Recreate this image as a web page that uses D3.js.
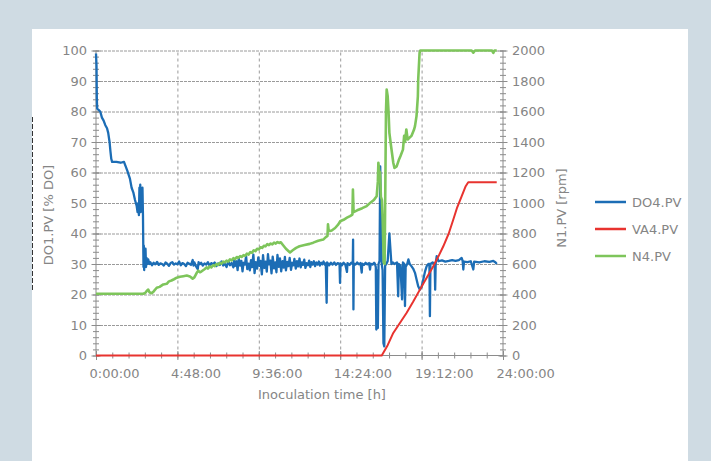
<!DOCTYPE html>
<html>
<head>
<meta charset="utf-8">
<script src="https://cdn.jsdelivr.net/npm/d3@7"></script>
<style>
  html, body { margin: 0; padding: 0; background: #cfdbe3; }
  svg { display: block; }
  text { font-family: "DejaVu Sans", sans-serif; }
</style>
</head>
<body>
<svg id="chart" width="711" height="461"></svg>
<script>
// ---- Series data (time in hours) ----
// Dissolved oxygen, % DO (left axis)
const doHours = [
  0.00, 0.03, 0.05, 0.07, 0.15, 0.25, 0.35, 0.45, 0.55, 0.65, 0.72, 0.80, 0.85, 0.90, 0.95,
  1.20, 1.45, 1.65, 1.75, 1.85, 2.00, 2.10, 2.20, 2.30, 2.40, 2.45, 2.50, 2.53, 2.56, 2.58,
  2.61, 2.63, 2.66, 2.70, 2.74, 2.77, 2.80, 2.82, 2.84, 2.86, 2.89, 2.92, 2.95, 2.98, 3.02,
  3.08, 3.15, 3.20, 3.30, 3.40, 3.50, 3.60, 3.70, 3.80, 3.90, 4.00, 4.10, 4.20, 4.30, 4.40,
  4.50, 4.60, 4.70, 4.80, 4.90, 5.00, 5.10, 5.20, 5.30, 5.40, 5.50, 5.60, 5.70, 5.75, 5.80,
  5.90, 6.00, 6.05, 6.10, 6.20, 6.30, 6.40, 6.50, 6.60, 6.70, 6.80, 6.90, 7.00, 7.10, 7.20,
  7.30, 7.40, 7.50, 7.60, 7.70, 7.80, 7.90, 8.00, 8.10, 8.15, 8.20, 8.28, 8.35, 8.42, 8.50,
  8.57, 8.64, 8.70, 8.78, 8.85, 8.92, 9.00, 9.07, 9.14, 9.20, 9.28, 9.35, 9.42, 9.50, 9.57,
  9.64, 9.70, 9.78, 9.85, 9.92, 10.00, 10.07, 10.14, 10.20, 10.28, 10.35, 10.42, 10.50, 10.57,
  10.64, 10.70, 10.78, 10.85, 10.92, 11.00, 11.07, 11.14, 11.20, 11.28, 11.35, 11.42, 11.50,
  11.57, 11.64, 11.70, 11.78, 11.85, 11.92, 12.00, 12.07, 12.14, 12.20, 12.28, 12.35, 12.42,
  12.50, 12.57, 12.64, 12.70, 12.78, 12.85, 12.92, 13.00, 13.07, 13.14, 13.20, 13.28, 13.35,
  13.42, 13.50, 13.55, 13.60, 13.63, 13.75, 13.85, 13.95, 14.05, 14.15, 14.25, 14.36, 14.39,
  14.42, 14.50, 14.60, 14.70, 14.80, 14.83, 14.95, 15.05, 15.14, 15.16, 15.18, 15.20, 15.30,
  15.40, 15.50, 15.60, 15.67, 15.70, 15.80, 15.90, 16.00, 16.10, 16.16, 16.20, 16.30, 16.40,
  16.45, 16.50, 16.53, 16.56, 16.62, 16.66, 16.72, 16.76, 16.80, 16.85, 16.90, 16.95, 17.00,
  17.05, 17.12, 17.20, 17.30, 17.36, 17.42, 17.50, 17.60, 17.75, 17.82, 17.86, 17.95, 18.05,
  18.10, 18.18, 18.22, 18.26, 18.35, 18.42, 18.50, 18.60, 18.70, 18.81, 18.90, 19.00, 19.10,
  19.20, 19.30, 19.40, 19.50, 19.60, 19.66, 19.69, 19.72, 19.85, 19.97, 20.00, 20.03, 20.09,
  20.20, 20.40, 20.60, 20.80, 21.00, 21.20, 21.40, 21.56, 21.62, 21.66, 21.70, 21.90, 22.10,
  22.25, 22.30, 22.60, 22.90, 23.20, 23.43, 23.55, 23.63
];
const doPct = [
  99, 95, 84, 81, 80.5, 80, 78, 77, 75.5, 74.5, 73, 70, 67, 64.5, 63.5,
  63.5, 63.2, 63.5, 62, 60.5, 58, 55, 53.5, 51, 49, 47, 50, 46, 55, 48,
  56, 47, 54, 48, 55, 46, 29, 36, 28, 33, 31, 35, 29, 32, 30,
  31.5, 30, 30.6, 29.6, 30.4, 29.9, 30.7, 29.7, 30.2, 30.0, 29.5, 30.5, 30.1, 29.4, 30.3,
  30.6, 29.8, 30.2, 29.9, 30.8, 29.6, 30.3, 30.0, 29.3, 30.4, 30.1, 29.7, 31.3, 29.5, 30.5,
  29.2, 28.3, 30.6, 29.9, 30.4, 29.5, 30.2, 29.8, 30.6, 29.4, 30.3, 29.9, 30.5, 29.3, 30.2,
  29.7, 30.8, 29.5, 30.1, 29.0, 30.9, 29.6, 30.3, 28.9, 31.2, 29.4, 30.9, 28.0, 31.9, 29.5,
  31.0, 27.6, 30.4, 29.8, 32.6, 28.3, 30.1, 27.9, 31.3, 29.0, 33.1, 27.0, 30.6, 28.5, 32.2,
  29.4, 31.0, 26.6, 32.9, 28.7, 30.8, 27.5, 33.2, 29.9, 31.1, 26.9, 32.4, 28.6, 30.5,
  27.3, 33.0, 29.1, 31.8, 27.6, 30.9, 28.8, 32.3, 27.9, 30.7, 29.3, 32.0, 28.1,
  30.4, 29.6, 31.7, 28.5, 30.9, 29.2, 31.8, 28.9, 30.5, 29.7, 31.4, 28.7, 30.3,
  29.6, 31.1, 29.0, 30.6, 29.8, 30.9, 29.3, 30.5, 29.8, 30.8, 29.5, 30.4, 29.9,
  30.8, 29.7, 30.2, 17.3, 30.5, 29.6, 30.4, 29.8, 30.5, 29.7, 30.3, 30.0, 23.8,
  30.2, 29.6, 30.4, 29.8, 27.4, 30.3, 29.7, 30.4, 30.0, 38.0, 15.1, 30.2, 29.8,
  30.5, 29.9, 30.3, 27.2, 30.1, 29.7, 30.4, 29.9, 30.3, 28.2, 30.1, 29.8, 30.4,
  30.0, 29.0, 8.5, 28.0, 9.0, 30.0, 31.0, 62.0, 45.0, 30.0, 28.0, 4.0, 3.0,
  29.5, 30.0, 31.0, 40.0, 35.0, 30.0, 30.5, 30.0, 30.5, 19.4, 30.0, 29.5, 18.4,
  30.5, 30.0, 16.2, 29.0, 30.0, 31.5, 30.0, 29.3, 28.5, 27.1, 25.0, 22.7, 21.6,
  22.5, 24.9, 27.5, 29.3, 30.0, 30.0, 12.9, 30.0, 30.5, 30.0, 21.6, 30.0, 32.6,
  30.9, 31.2, 30.8, 31.0, 31.3, 31.0, 31.3, 32.0, 31.0, 28.2, 30.8, 30.6, 30.9,
  28.2, 30.8, 30.5, 30.9, 30.7, 31.0, 30.6, 30.0
];

// Feed volume, plotted on the left axis
const vaHours = [0, 16.85, 17.2, 17.53, 17.9, 18.32, 18.7, 19.1, 19.5, 19.89, 20.2, 20.48, 20.8, 21.07, 21.3, 21.56, 21.8, 21.95, 23.63];
const vaPct   = [0, 0, 3.4, 7.4, 10.5, 14.0, 17.6, 21.6, 25.5, 29.3, 32.6, 35.8, 40.0, 44.6, 48.6, 52.2, 55.5, 56.8, 56.8];

// Stirrer speed, rpm (right axis)
const nHours = [
  0, 2.79, 2.9, 3.0, 3.08, 3.15, 3.28, 3.4, 3.58, 3.75, 3.97, 4.17, 4.3, 4.45, 4.6, 4.76,
  4.95, 5.15, 5.35, 5.54, 5.7, 5.8, 5.94, 6.03, 6.13, 6.23, 6.4, 6.53, 6.6, 6.7, 6.8, 6.9,
  7.0, 7.1, 7.2, 7.3, 7.4, 7.5, 7.6, 7.7, 7.8, 7.9, 8.0, 8.1, 8.2, 8.3, 8.4, 8.5, 8.6, 8.7,
  8.8, 8.9, 9.0, 9.1, 9.2, 9.3, 9.4, 9.5, 9.6, 9.7, 9.8, 9.9, 10.0, 10.1, 10.2, 10.3, 10.4,
  10.5, 10.6, 10.7, 10.8, 10.9, 11.0, 11.2, 11.44, 11.6, 11.8, 12.0, 12.3, 12.6, 12.81, 13.1,
  13.4, 13.55, 13.65, 13.68, 13.72, 13.78, 13.9, 14.1, 14.29, 14.4, 14.6, 14.8, 14.98, 15.12,
  15.15, 15.19, 15.4, 15.7, 15.96, 16.2, 16.4, 16.55, 16.62, 16.65, 16.7, 16.75, 16.8, 16.86,
  16.9, 16.97, 17.02, 17.06, 17.1, 17.14, 17.2, 17.25, 17.3, 17.4, 17.53, 17.6, 17.73, 17.85,
  17.95, 18.1, 18.17, 18.22, 18.3, 18.38, 18.5, 18.6, 18.75, 18.81, 18.9, 18.98, 19.0, 19.08,
  19.12, 22.15, 22.25, 22.35, 23.35, 23.43, 23.5, 23.63
];
const nRpm = [
  405, 405, 410, 425, 432, 415, 408, 420, 444, 450, 466, 470, 486, 492, 500, 510,
  516, 520, 524, 518, 504, 512, 542, 556, 546, 552, 566, 578, 570, 584, 578, 592,
  586, 600, 594, 608, 602, 616, 610, 622, 616, 630, 624, 638, 632, 646, 640, 652, 646, 658,
  654, 668, 662, 678, 674, 690, 684, 700, 696, 710, 706, 720, 716, 730, 724, 734, 728,
  740, 734, 744, 738, 742, 728, 700, 676, 690, 706, 716, 724, 732, 740, 752,
  760, 776, 784, 860, 820, 816, 820, 836, 860, 880, 890, 904, 914, 924,
  1088, 940, 952, 966, 980, 1004, 1022, 1044, 1140, 1264, 1210, 1200, 1040, 1020,
  900, 608, 600, 1100, 1600, 1744, 1700, 1600, 1460, 1372, 1264, 1230, 1240, 1280,
  1306, 1350, 1440, 1400, 1482, 1416, 1430, 1440, 1480, 1504, 1570, 1700, 1810, 1984,
  2000, 2000, 1986, 2000, 2000, 1984, 2000, 2000
];

// Axis ticks and labels
const xMajor = [0, 4.8, 9.6, 14.4, 19.2, 24];
const leftMajor = d3.range(0, 101, 10);
const rightMajor = d3.range(0, 2001, 200);
const legendNames = ["DO4.PV", "VA4.PV", "N4.PV"];
const colors = { DO: "#1c6db5", VA: "#e8332f", N: "#7ec55b" };

// ---- Layout ----
const svg = d3.select("#chart");
const W = 711, H = 461;
const pL = 96, pR = 503, pT = 50.5, pB = 355.5;
const axisGray = "#8c8c8c";
const textGray = "#858585";

const x = d3.scaleLinear().domain([0, 24]).range([pL, pR]);
const yL = d3.scaleLinear().domain([0, 100]).range([pB, pT]);
const yR = d3.scaleLinear().domain([0, 2000]).range([pB, pT]);

// white panel
svg.append("rect").attr("x", 32).attr("y", 29).attr("width", 656).attr("height", H - 29).attr("fill", "#ffffff");
// cut-off edge marks along the panel's left side
svg.append("line").attr("x1", 32.5).attr("x2", 32.5).attr("y1", 117).attr("y2", 292)
  .attr("stroke", "#333").attr("stroke-width", 1).attr("stroke-dasharray", "5,2");

// ---- Grid ----
const grid = svg.append("g");
grid.append("g").attr("transform", `translate(${pL},0)`)
  .call(d3.axisLeft(yL).tickValues(leftMajor.filter(v => v > 0)).tickSize(-(pR - pL)).tickFormat(""))
  .call(g => g.select(".domain").remove())
  .call(g => g.selectAll(".tick line").attr("stroke", "#9a9a9a").attr("stroke-dasharray", "3,1"));
grid.append("g").attr("transform", `translate(0,${pB})`)
  .call(d3.axisBottom(x).tickValues(xMajor.slice(1, -1)).tickSize(-(pB - pT)).tickFormat(""))
  .call(g => g.select(".domain").remove())
  .call(g => g.selectAll(".tick line").attr("stroke", "#9a9a9a").attr("stroke-dasharray", "3,3"));

// ---- Axes: crossing tick marks ----
function crossTicks(sel, axisFn, scale, values, size) {
  sel.append("g").call(axisFn(scale).tickValues(values).tickSize(size).tickFormat(""))
    .call(g => g.select(".domain").remove());
  sel.append("g").call(axisFn(scale).tickValues(values).tickSize(-size).tickFormat(""))
    .call(g => g.select(".domain").remove());
}
const axes = svg.append("g");
const gL = axes.append("g").attr("transform", `translate(${pL},0)`);
crossTicks(gL, d3.axisLeft, yL, d3.range(0, 100.001, 2), 3);
crossTicks(gL, d3.axisLeft, yL, leftMajor, 4.5);
const gR = axes.append("g").attr("transform", `translate(${pR},0)`);
crossTicks(gR, d3.axisRight, yR, d3.range(0, 2000.1, 40), 3);
crossTicks(gR, d3.axisRight, yR, rightMajor, 4.5);
const gB = axes.append("g").attr("transform", `translate(0,${pB})`);
crossTicks(gB, d3.axisBottom, x, d3.range(0, 24.001, 0.96), 3);
crossTicks(gB, d3.axisBottom, x, xMajor, 4.5);
axes.selectAll(".tick line").attr("stroke", axisGray);

// axis lines
axes.append("line").attr("x1", pL).attr("x2", pL).attr("y1", pT).attr("y2", pB).attr("stroke", axisGray);
axes.append("line").attr("x1", pR).attr("x2", pR).attr("y1", pT).attr("y2", pB).attr("stroke", axisGray);
axes.append("line").attr("x1", pL).attr("x2", pR).attr("y1", pB).attr("y2", pB).attr("stroke", axisGray);

// tick labels
const fmtTime = h => {
  const hh = Math.floor(h + 1e-9);
  const mm = Math.round((h - hh) * 60);
  return `${hh}:${String(mm).padStart(2, "0")}:00`;
};
axes.append("g").attr("transform", `translate(${pL},0)`)
  .call(d3.axisLeft(yL).tickValues(leftMajor).tickFormat(d3.format("d")).tickSize(0).tickPadding(9))
  .call(g => g.select(".domain").remove());
axes.append("g").attr("transform", `translate(${pR},0)`)
  .call(d3.axisRight(yR).tickValues(rightMajor).tickFormat(d3.format("d")).tickSize(0).tickPadding(9))
  .call(g => g.select(".domain").remove());
axes.append("g").attr("transform", `translate(0,${pB})`)
  .call(d3.axisBottom(x).tickValues(xMajor).tickFormat(fmtTime).tickSize(0).tickPadding(13.5))
  .call(g => g.select(".domain").remove())
  .call(g => g.selectAll("text").attr("text-anchor", "start").attr("dx", -7));
axes.selectAll("text").attr("fill", textGray).attr("font-size", 13).attr("font-family", "DejaVu Sans, sans-serif");

// axis titles
svg.append("text").attr("x", 322).attr("y", 399).attr("text-anchor", "middle")
  .attr("fill", textGray).attr("font-size", 13).text("Inoculation time [h]");
svg.append("text").attr("transform", "translate(53,215) rotate(-90)").attr("text-anchor", "middle")
  .attr("fill", textGray).attr("font-size", 13).text("DO1.PV [% DO]");
svg.append("text").attr("transform", "translate(566,208) rotate(-90)").attr("text-anchor", "middle")
  .attr("fill", textGray).attr("font-size", 13).text("N1.PV [rpm]");

// ---- Series ----
const lineL = d3.line().x(d => x(d[0])).y(d => yL(d[1]));
const lineR = d3.line().x(d => x(d[0])).y(d => yR(d[1]));
const marks = svg.append("g").attr("fill", "none").attr("stroke-linejoin", "round");
marks.append("path").datum(d3.zip(doHours, doPct)).attr("d", lineL)
  .attr("stroke", colors.DO).attr("stroke-width", 2.3);
marks.append("path").datum(d3.zip(vaHours, vaPct)).attr("d", lineL)
  .attr("stroke", colors.VA).attr("stroke-width", 2);
marks.append("path").datum(d3.zip(nHours, nRpm)).attr("d", lineR)
  .attr("stroke", colors.N).attr("stroke-width", 2.6);

// ---- Legend ----
const legend = svg.append("g");
const legendColors = [colors.DO, colors.VA, colors.N];
legendNames.forEach((name, i) => {
  const yy = 202 + i * 27;
  legend.append("line").attr("x1", 595).attr("x2", 626).attr("y1", yy).attr("y2", yy)
    .attr("stroke", legendColors[i]).attr("stroke-width", 2.5);
  legend.append("text").attr("x", 632).attr("y", yy).attr("dy", "0.35em")
    .attr("fill", textGray).attr("font-size", 13).text(name);
});
</script>
</body>
</html>
